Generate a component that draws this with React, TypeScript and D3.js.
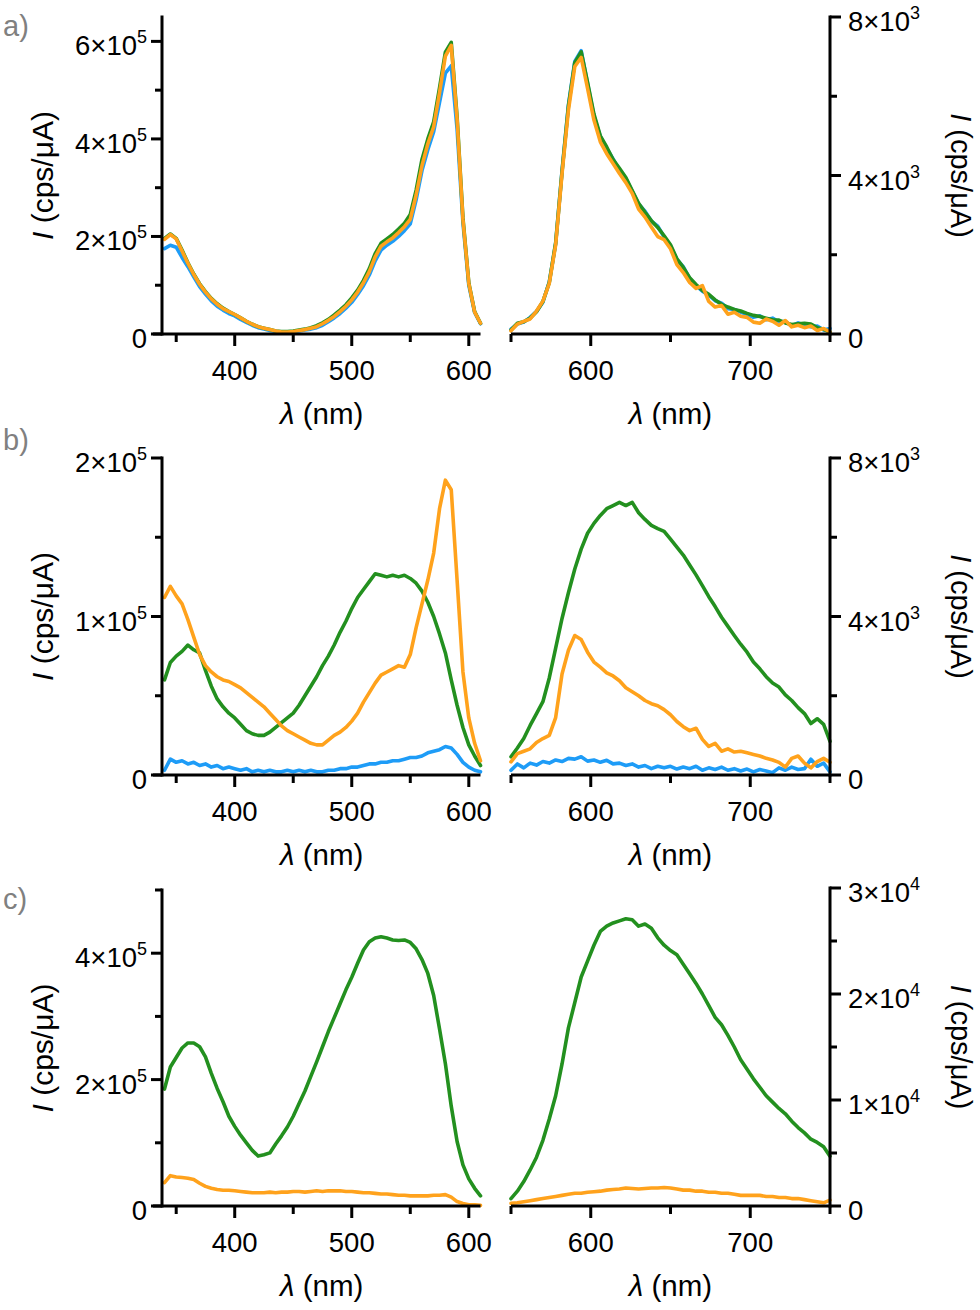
import * as d3 from 'd3';

// wavelength grids (nm)
const exGrid = d3.range(340, 611, 5);
const emGrid = d3.range(550, 751, 4);

// a) excitation, ×10^5 cps/µA
const aExBlue = [
  1.75, 1.82, 1.78, 1.57, 1.38, 1.17, 0.97, 0.82, 0.68, 0.57,
  0.49, 0.42, 0.37, 0.30, 0.24, 0.18, 0.13, 0.10, 0.07, 0.05,
  0.03, 0.03, 0.04, 0.06, 0.08, 0.10, 0.13, 0.18, 0.25, 0.33,
  0.42, 0.53, 0.65, 0.81, 0.99, 1.21, 1.50, 1.72, 1.82, 1.90,
  2.00, 2.12, 2.26, 2.75, 3.35, 3.78, 4.15, 4.75, 5.35, 5.50,
  4.20, 2.28, 1.00, 0.44, 0.21,
];
const aExGreen = [
  1.96, 2.05, 1.96, 1.72, 1.46, 1.23, 1.03, 0.87, 0.73, 0.62,
  0.53, 0.46, 0.40, 0.33, 0.26, 0.20, 0.15, 0.12, 0.09, 0.06,
  0.05, 0.05, 0.06, 0.08, 0.10, 0.13, 0.17, 0.23, 0.30, 0.39,
  0.49, 0.60, 0.74, 0.90, 1.10, 1.34, 1.65, 1.86, 1.95, 2.04,
  2.15, 2.27, 2.45, 2.95, 3.58, 4.00, 4.35, 5.05, 5.78, 5.98,
  4.45, 2.38, 1.05, 0.46, 0.22,
];
const aExOrange = [
  1.94, 2.04, 1.95, 1.70, 1.45, 1.22, 1.02, 0.86, 0.72, 0.61,
  0.52, 0.46, 0.40, 0.33, 0.26, 0.20, 0.15, 0.12, 0.09, 0.06,
  0.04, 0.04, 0.05, 0.07, 0.09, 0.12, 0.15, 0.21, 0.28, 0.36,
  0.46, 0.57, 0.70, 0.86, 1.05, 1.28, 1.58, 1.80, 1.89, 1.97,
  2.08, 2.20, 2.35, 2.85, 3.45, 3.90, 4.25, 4.95, 5.70, 5.92,
  4.40, 2.35, 1.04, 0.45, 0.22,
];

// a) emission, ×10^3
const aEmBlue = [
  0.12, 0.25, 0.30, 0.42, 0.57, 0.80, 1.32, 2.28, 4.12, 5.78,
  6.88, 7.15, 6.32, 5.50, 4.98, 4.68, 4.42, 4.12, 3.92, 3.60,
  3.28, 3.10, 2.85, 2.72, 2.45, 2.22, 1.88, 1.70, 1.40, 1.22,
  1.08, 0.98, 0.84, 0.78, 0.64, 0.62, 0.55, 0.50, 0.42, 0.46,
  0.36, 0.40, 0.30, 0.32, 0.20, 0.28, 0.22, 0.18, 0.20, 0.10,
  0.14,
];
const aEmGreen = [
  0.10, 0.27, 0.31, 0.40, 0.56, 0.82, 1.30, 2.30, 4.10, 5.75,
  6.85, 7.12, 6.35, 5.55, 5.00, 4.72, 4.40, 4.18, 3.95, 3.62,
  3.30, 3.07, 2.86, 2.69, 2.48, 2.25, 1.90, 1.68, 1.42, 1.25,
  1.10, 1.00, 0.86, 0.75, 0.68, 0.62, 0.58, 0.52, 0.47, 0.44,
  0.40, 0.36, 0.35, 0.28, 0.24, 0.26, 0.27, 0.25, 0.16, 0.12,
  0.05,
];
const aEmOrange = [
  0.08, 0.25, 0.32, 0.38, 0.58, 0.83, 1.28, 2.25, 4.05, 5.65,
  6.75, 6.98, 6.20, 5.40, 4.85, 4.55, 4.30, 4.05, 3.82, 3.55,
  3.15, 2.95, 2.70, 2.46, 2.38, 2.15, 1.75, 1.55, 1.30, 1.15,
  1.22, 0.82, 0.68, 0.72, 0.50, 0.55, 0.45, 0.42, 0.30, 0.27,
  0.38, 0.32, 0.22, 0.34, 0.18, 0.22, 0.16, 0.20, 0.09, 0.14,
  0.05,
];

// b) excitation, ×10^5
const bExBlue = [
  0.03, 0.10, 0.08, 0.09, 0.07, 0.08, 0.06, 0.07, 0.05, 0.06,
  0.04, 0.05, 0.04, 0.03, 0.04, 0.02, 0.03, 0.02, 0.03, 0.02,
  0.02, 0.03, 0.02, 0.03, 0.02, 0.03, 0.02, 0.02, 0.03, 0.03,
  0.04, 0.04, 0.05, 0.05, 0.06, 0.07, 0.07, 0.08, 0.08, 0.09,
  0.09, 0.10, 0.11, 0.11, 0.12, 0.14, 0.15, 0.16, 0.18, 0.17,
  0.13, 0.08, 0.05, 0.03, 0.02,
];
const bExGreen = [
  0.60, 0.71, 0.75, 0.78, 0.82, 0.79, 0.77, 0.66, 0.56, 0.48,
  0.43, 0.39, 0.36, 0.32, 0.28, 0.26, 0.25, 0.25, 0.27, 0.30,
  0.33, 0.36, 0.39, 0.44, 0.50, 0.56, 0.62, 0.69, 0.75, 0.82,
  0.90, 0.97, 1.05, 1.12, 1.17, 1.22, 1.27, 1.26, 1.25, 1.26,
  1.25, 1.26, 1.24, 1.21, 1.16, 1.09, 1.00, 0.89, 0.77, 0.60,
  0.44, 0.30, 0.19, 0.12, 0.06,
];
const bExOrange = [
  1.12, 1.19, 1.13, 1.08, 0.98, 0.87, 0.76, 0.69, 0.65, 0.62,
  0.60, 0.59, 0.57, 0.55, 0.52, 0.49, 0.46, 0.43, 0.39, 0.35,
  0.31, 0.28, 0.26, 0.24, 0.22, 0.20, 0.19, 0.19, 0.22, 0.25,
  0.27, 0.30, 0.34, 0.39, 0.46, 0.52, 0.58, 0.63, 0.65, 0.67,
  0.69, 0.68, 0.76, 0.93, 1.08, 1.23, 1.40, 1.68, 1.86, 1.80,
  1.23, 0.65, 0.36, 0.20, 0.09,
];

// b) emission, ×10^3
const bEmBlue = [
  0.12, 0.28, 0.18, 0.30, 0.25, 0.34, 0.30, 0.38, 0.34, 0.42,
  0.40, 0.46, 0.35, 0.38, 0.32, 0.37, 0.28, 0.30, 0.24, 0.28,
  0.20, 0.24, 0.16, 0.22, 0.18, 0.22, 0.15, 0.20, 0.16, 0.22,
  0.12, 0.18, 0.14, 0.20, 0.12, 0.16, 0.10, 0.15, 0.08, 0.14,
  0.10, 0.06, 0.18, 0.12, 0.20, 0.14, 0.16, 0.40, 0.22, 0.30,
  0.08,
];
const bEmGreen = [
  0.46, 0.68, 0.92, 1.25, 1.55, 1.85, 2.45, 3.20, 3.95, 4.60,
  5.20, 5.70, 6.10, 6.35, 6.55, 6.72, 6.80, 6.88, 6.80, 6.88,
  6.62, 6.45, 6.30, 6.22, 6.15, 5.95, 5.75, 5.55, 5.30, 5.05,
  4.78, 4.50, 4.25, 3.98, 3.75, 3.52, 3.30, 3.10, 2.85, 2.68,
  2.48, 2.32, 2.22, 2.02, 1.88, 1.70, 1.55, 1.30, 1.42, 1.28,
  0.85,
];
const bEmOrange = [
  0.33, 0.54, 0.60, 0.66, 0.82, 0.92, 1.00, 1.45, 2.55, 3.15,
  3.52, 3.42, 3.10, 2.85, 2.72, 2.58, 2.50, 2.38, 2.20, 2.10,
  2.00, 1.88, 1.80, 1.75, 1.65, 1.52, 1.35, 1.22, 1.12, 1.18,
  0.90, 0.72, 0.80, 0.60, 0.66, 0.58, 0.60, 0.56, 0.52, 0.48,
  0.42, 0.38, 0.32, 0.20, 0.42, 0.48, 0.30, 0.18, 0.34, 0.42,
  0.32,
];

// c) excitation, ×10^5
const cExGreen = [
  1.85, 2.20, 2.35, 2.50, 2.58, 2.58, 2.52, 2.36, 2.10, 1.86,
  1.65, 1.42, 1.26, 1.12, 1.00, 0.88, 0.79, 0.81, 0.84, 0.98,
  1.11, 1.25, 1.42, 1.62, 1.82, 2.05, 2.28, 2.52, 2.76, 2.98,
  3.20, 3.42, 3.62, 3.84, 4.05, 4.18, 4.24, 4.26, 4.24, 4.21,
  4.20, 4.21, 4.17, 4.07, 3.90, 3.68, 3.33, 2.80, 2.25, 1.58,
  1.02, 0.65, 0.43, 0.28, 0.16,
];
const cExOrange = [
  0.37, 0.48, 0.46, 0.45, 0.44, 0.42, 0.36, 0.31, 0.28, 0.26,
  0.25, 0.25, 0.24, 0.23, 0.22, 0.21, 0.21, 0.21, 0.22, 0.21,
  0.22, 0.22, 0.23, 0.23, 0.22, 0.23, 0.24, 0.23, 0.24, 0.24,
  0.24, 0.23, 0.23, 0.22, 0.21, 0.21, 0.20, 0.19, 0.19, 0.18,
  0.17, 0.17, 0.16, 0.16, 0.16, 0.16, 0.17, 0.17, 0.18, 0.14,
  0.07, 0.04, 0.02, 0.02, 0.01,
];

// c) emission, ×10^4
const cEmGreen = [
  0.07, 0.14, 0.23, 0.34, 0.46, 0.62, 0.82, 1.04, 1.34, 1.68,
  1.92, 2.16, 2.31, 2.46, 2.59, 2.64, 2.67, 2.69, 2.71, 2.70,
  2.64, 2.66, 2.62, 2.53, 2.46, 2.41, 2.37, 2.28, 2.19, 2.10,
  2.00, 1.89, 1.78, 1.71, 1.61, 1.50, 1.38, 1.29, 1.20, 1.12,
  1.04, 0.98, 0.92, 0.87, 0.80, 0.74, 0.69, 0.63, 0.60, 0.56,
  0.47,
];
const cEmOrange = [
  0.025, 0.03, 0.04, 0.05, 0.06, 0.07, 0.08, 0.09, 0.10, 0.11,
  0.12, 0.12, 0.13, 0.135, 0.14, 0.15, 0.155, 0.16, 0.17, 0.165,
  0.16, 0.165, 0.17, 0.17, 0.175, 0.17, 0.16, 0.15, 0.15, 0.14,
  0.14, 0.13, 0.13, 0.12, 0.12, 0.11, 0.10, 0.10, 0.10, 0.10,
  0.09, 0.09, 0.08, 0.08, 0.07, 0.07, 0.06, 0.05, 0.04, 0.03,
  0.055,
];

const exTicks = [350, 400, 450, 500, 550, 600];
const exTickLabels = [400, 500, 600];
const emTicks = [550, 600, 650, 700, 750];
const emTickLabels = [600, 700];

const FONT = '"Liberation Sans", Arial, Helvetica, sans-serif';
const BLUE = '#1e9cf7';
const GREEN = '#23901f';
const ORANGE = '#ffa21c';

interface Series {
  color: string;
  values: number[];
}

interface PanelProps {
  side: 'left' | 'right';
  series: Series[];
  yMax: number;
  yTicks: number[];
  yMinor: number[];
  exp: number;
  top: number;
  zero: number;
}

const Panel = ({ side, series, yMax, yTicks, yMinor, exp, top, zero }: PanelProps) => {
  const isLeft = side === 'left';
  const grid = isLeft ? exGrid : emGrid;
  const x = d3.scaleLinear()
    .domain(isLeft ? [340, 610] : [550, 750])
    .range(isLeft ? [164.5, 480.5] : [511, 830]);
  const y = d3.scaleLinear().domain([0, yMax]).range([zero, top]);

  const axisX = isLeft ? 162 : 830;
  const xStart = isLeft ? 153 : 511;
  const xEnd = isLeft ? 480.5 : 830;
  const ticks = isLeft ? exTicks : emTicks;
  const tickLabels = isLeft ? exTickLabels : emTickLabels;
  const dir = isLeft ? -1 : 1;
  const mid = (top + zero) / 2;

  const line = d3.line<number>()
    .x((_, i) => x(grid[i]))
    .y(d => y(d));

  return (
    <g>
      {series.map((s, i) => (
        <path key={i} d={line(s.values) || ''} fill="none" stroke={s.color}
          strokeWidth={3.6} strokeLinejoin="round" strokeLinecap="round" />
      ))}

      {/* x axis */}
      <line x1={xStart} x2={xEnd} y1={zero} y2={zero} stroke="#000" strokeWidth={3} />
      {ticks.map(t => (
        <line key={t} x1={x(t)} x2={x(t)} y1={zero} y2={zero + (tickLabels.includes(t) ? 12 : 8)}
          stroke="#000" strokeWidth={3} />
      ))}
      {tickLabels.map(t => (
        <text key={t} x={x(t)} y={zero + 46} textAnchor="middle" fontSize={27.5}>{t}</text>
      ))}
      <text x={(xStart + xEnd) / 2 + (isLeft ? 5 : 0)} y={zero + 90} textAnchor="middle" fontSize={29.5}>
        <tspan fontStyle="italic">λ</tspan> (nm)
      </text>

      {/* y axis */}
      <line x1={axisX} x2={axisX} y1={top - 1.5} y2={zero + 1.5} stroke="#000" strokeWidth={3} />
      {[...yTicks, ...yMinor].map(t => (
        <line key={t} x1={axisX} x2={axisX + dir * (yTicks.includes(t) ? 11 : 7)} y1={y(t)} y2={y(t)}
          stroke="#000" strokeWidth={3} />
      ))}
      {yTicks.map(t => (
        <text key={t} x={isLeft ? 147 : 848} y={y(t) + 14} textAnchor={isLeft ? 'end' : 'start'} fontSize={27.5}>
          {t === 0 ? '0' : (
            <>
              {`${t}×10`}
              <tspan dy={-12} fontSize={18}>{exp}</tspan>
            </>
          )}
        </text>
      ))}
      <text
        transform={`translate(${isLeft ? 53 : 951}, ${mid}) rotate(${isLeft ? -90 : 90})`}
        textAnchor="middle" fontSize={isLeft ? 30 : 29}>
        <tspan fontStyle="italic">I</tspan> (cps/μA)
      </text>
    </g>
  );
};

const App = () => {
  return (
    <svg width={980} height={1310} style={{ position: 'absolute', left: 0, top: 0, background: '#fff' }}
      fontFamily={FONT}>
      <rect width={980} height={1310} fill="#fff" />

      {/* a) */}
      <text x={3} y={36} fontSize={29} fill="#808080">a)</text>
      <Panel side="left" top={17} zero={334} yMax={6.5} yTicks={[0, 2, 4, 6]} yMinor={[1, 3, 5]} exp={5}
        series={[{ color: BLUE, values: aExBlue }, { color: GREEN, values: aExGreen }, { color: ORANGE, values: aExOrange }]} />
      <Panel side="right" top={17} zero={334} yMax={8} yTicks={[0, 4, 8]} yMinor={[2, 6]} exp={3}
        series={[{ color: BLUE, values: aEmBlue }, { color: GREEN, values: aEmGreen }, { color: ORANGE, values: aEmOrange }]} />

      {/* b) */}
      <text x={3} y={450} fontSize={29} fill="#808080">b)</text>
      <Panel side="left" top={458} zero={775} yMax={2} yTicks={[0, 1, 2]} yMinor={[0.5, 1.5]} exp={5}
        series={[{ color: BLUE, values: bExBlue }, { color: GREEN, values: bExGreen }, { color: ORANGE, values: bExOrange }]} />
      <Panel side="right" top={458} zero={775} yMax={8} yTicks={[0, 4, 8]} yMinor={[2, 6]} exp={3}
        series={[{ color: BLUE, values: bEmBlue }, { color: GREEN, values: bEmGreen }, { color: ORANGE, values: bEmOrange }]} />

      {/* c) */}
      <text x={3} y={909} fontSize={29} fill="#808080">c)</text>
      <Panel side="left" top={890} zero={1206} yMax={5} yTicks={[0, 2, 4]} yMinor={[1, 3, 5]} exp={5}
        series={[{ color: GREEN, values: cExGreen }, { color: ORANGE, values: cExOrange }]} />
      <Panel side="right" top={888} zero={1206} yMax={3} yTicks={[0, 1, 2, 3]} yMinor={[0.5, 1.5, 2.5]} exp={4}
        series={[{ color: GREEN, values: cEmGreen }, { color: ORANGE, values: cEmOrange }]} />
    </svg>
  );
};

export default App;
